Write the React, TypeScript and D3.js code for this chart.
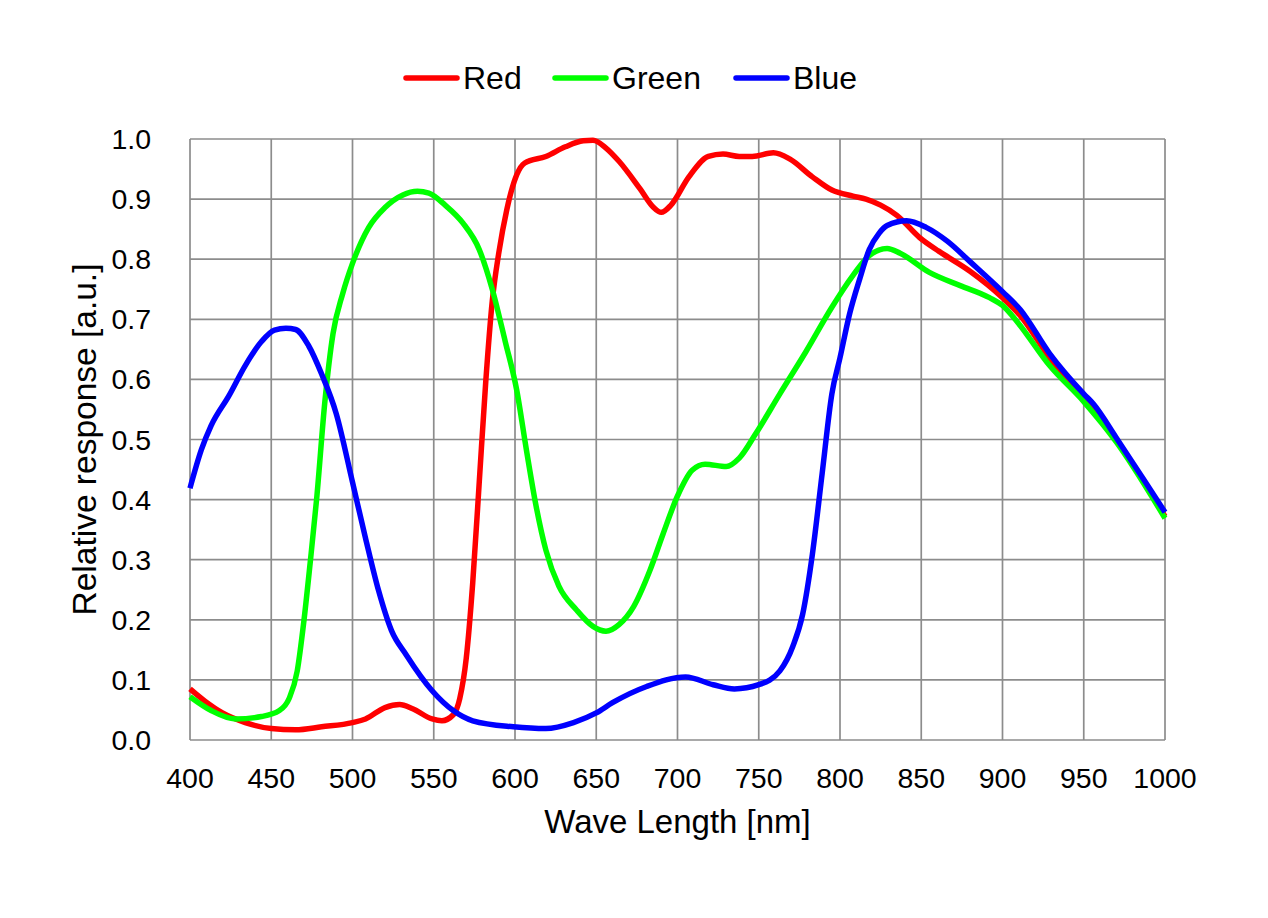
import React from "react";
import * as d3 from "d3";

const xTicks = [400, 450, 500, 550, 600, 650, 700, 750, 800, 850, 900, 950, 1000];
const yTicks = [0, 0.1, 0.2, 0.3, 0.4, 0.5, 0.6, 0.7, 0.8, 0.9, 1.0];

const redWl = [400, 409, 420, 434, 450, 465, 481, 500, 508, 520, 529, 537, 549, 555, 562, 566, 570, 574, 578, 582, 586, 590, 595, 601, 606, 619, 631, 642, 648, 656, 664, 677, 685, 690, 696, 707, 719, 728, 738, 746, 759, 769, 783, 795, 808, 816, 825, 835, 849, 861, 880, 900, 911, 929, 950, 970, 1000];
const redVal = [0.085, 0.065, 0.045, 0.029, 0.019, 0.017, 0.022, 0.029, 0.035, 0.054, 0.059, 0.052, 0.035, 0.032, 0.042, 0.069, 0.136, 0.262, 0.429, 0.596, 0.73, 0.81, 0.883, 0.94, 0.96, 0.971, 0.987, 0.997, 0.998, 0.985, 0.963, 0.917, 0.887, 0.878, 0.89, 0.937, 0.971, 0.975, 0.971, 0.971, 0.977, 0.967, 0.937, 0.915, 0.905, 0.9, 0.89, 0.873, 0.836, 0.813, 0.78, 0.736, 0.706, 0.636, 0.569, 0.499, 0.372];

const greenWl = [400, 413, 428, 444, 455, 461, 466, 470, 474, 478, 483, 488, 494, 500, 510, 520, 531, 540, 547, 557, 568, 578, 586, 594, 601, 607, 613, 619, 627, 638, 648, 656, 664, 673, 683, 691, 700, 709, 717, 730, 738, 748, 763, 779, 795, 808, 818, 829, 837, 855, 874, 892, 900, 909, 929, 950, 970, 1000];
const greenVal = [0.072, 0.049, 0.035, 0.039, 0.049, 0.069, 0.115, 0.196, 0.296, 0.403, 0.563, 0.676, 0.743, 0.793, 0.853, 0.886, 0.907, 0.913, 0.91, 0.89, 0.86, 0.816, 0.75, 0.663, 0.583, 0.483, 0.389, 0.316, 0.256, 0.216, 0.189, 0.181, 0.192, 0.222, 0.282, 0.342, 0.406, 0.449, 0.459, 0.455, 0.469, 0.509, 0.576, 0.646, 0.72, 0.773, 0.806, 0.818, 0.81, 0.778, 0.756, 0.736, 0.723, 0.696, 0.623, 0.563, 0.496, 0.369];

const blueWl = [400, 407, 413, 424, 434, 444, 452, 459, 465, 473, 481, 490, 500, 508, 516, 524, 533, 549, 562, 574, 599, 619, 636, 650, 660, 681, 705, 722, 735, 750, 763, 771, 777, 783, 789, 795, 800, 806, 812, 818, 824, 829, 841, 853, 866, 880, 900, 911, 929, 950, 956, 970, 987, 1000];
const blueVal = [0.419, 0.483, 0.523, 0.573, 0.623, 0.663, 0.682, 0.685, 0.683, 0.656, 0.609, 0.543, 0.429, 0.336, 0.249, 0.182, 0.142, 0.082, 0.049, 0.032, 0.022, 0.019, 0.029, 0.045, 0.062, 0.089, 0.105, 0.092, 0.085, 0.092, 0.115, 0.156, 0.209, 0.309, 0.443, 0.576, 0.636, 0.71, 0.766, 0.816, 0.843, 0.856, 0.864, 0.853, 0.83, 0.796, 0.746, 0.716, 0.643, 0.576, 0.559, 0.503, 0.433, 0.379];

const seriesNames = ["Red", "Green", "Blue"];
const seriesColors = ["#ff0000", "#00ff00", "#0000ff"];

export default function App() {
  const W = 1268;
  const H = 918;
  const left = 190;
  const right = 1165;
  const top = 139;
  const bottom = 740;

  const x = d3.scaleLinear().domain([400, 1000]).range([left, right]);
  const y = d3.scaleLinear().domain([0, 1]).range([bottom, top]);

  const line = d3
    .line<[number, number]>()
    .x((d) => x(d[0]))
    .y((d) => y(d[1]))
    .curve(d3.curveMonotoneX);

  const series = [
    { name: seriesNames[0], color: seriesColors[0], pts: redWl.map((w, i) => [w, redVal[i]] as [number, number]) },
    { name: seriesNames[1], color: seriesColors[1], pts: greenWl.map((w, i) => [w, greenVal[i]] as [number, number]) },
    { name: seriesNames[2], color: seriesColors[2], pts: blueWl.map((w, i) => [w, blueVal[i]] as [number, number]) },
  ];

  const font = "'Liberation Sans', Arial, sans-serif";
  const gridColor = "#8c8c8c";

  const legendItems = [
    { x1: 406, x2: 457, tx: 463 },
    { x1: 555, x2: 606, tx: 612 },
    { x1: 736, x2: 787, tx: 793 },
  ];

  return (
    <svg
      width={W}
      height={H}
      style={{ position: "absolute", left: 0, top: 0, background: "#fff" }}
      fontFamily={font}
    >
      <rect x={0} y={0} width={W} height={H} fill="#fff" />
      {xTicks.map((t) => (
        <line key={"gx" + t} x1={x(t)} x2={x(t)} y1={top} y2={bottom} stroke={gridColor} strokeWidth={1.7} />
      ))}
      {yTicks.map((t) => (
        <line key={"gy" + t} x1={left} x2={right} y1={y(t)} y2={y(t)} stroke={gridColor} strokeWidth={1.7} />
      ))}
      {series.map((s) => (
        <path
          key={s.name}
          d={line(s.pts) || ""}
          fill="none"
          stroke={s.color}
          strokeWidth={5.5}
          strokeLinejoin="round"
        />
      ))}
      {xTicks.map((t) => (
        <text key={"tx" + t} x={x(t)} y={788} textAnchor="middle" fontSize={28.5} fill="#000">
          {t}
        </text>
      ))}
      {yTicks.map((t) => (
        <text key={"ty" + t} x={151} y={y(t) + 10} textAnchor="end" fontSize={28.5} fill="#000">
          {t.toFixed(1)}
        </text>
      ))}
      <text x={(left + right) / 2} y={833} textAnchor="middle" fontSize={33} fill="#000">
        Wave Length [nm]
      </text>
      <text
        transform={`translate(96, ${(top + bottom) / 2}) rotate(-90)`}
        textAnchor="middle"
        fontSize={33.5}
        fill="#000"
      >
        Relative response [a.u.]
      </text>
      {series.map((s, i) => (
        <g key={"lg" + s.name}>
          <line
            x1={legendItems[i].x1}
            x2={legendItems[i].x2}
            y1={78}
            y2={78}
            stroke={s.color}
            strokeWidth={5.5}
            strokeLinecap="round"
          />
          <text x={legendItems[i].tx} y={89} fontSize={32} fill="#000">
            {s.name}
          </text>
        </g>
      ))}
    </svg>
  );
}
